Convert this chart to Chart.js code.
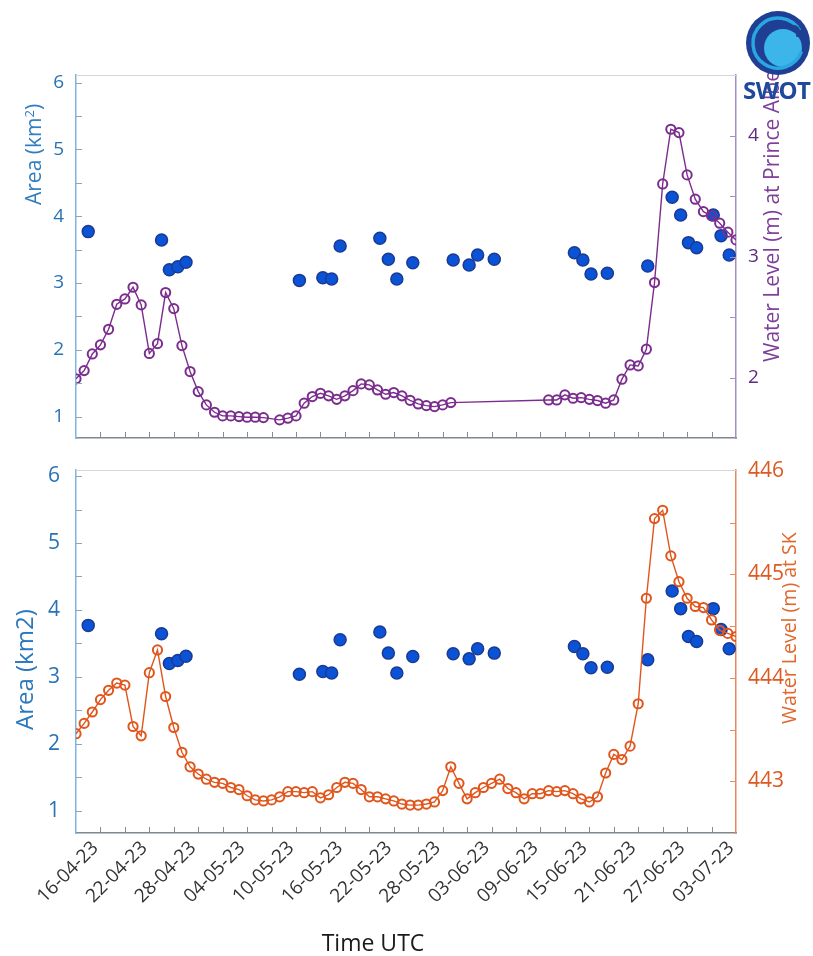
<!DOCTYPE html>
<html>
<head>
<meta charset="utf-8">
<script src="https://cdn.jsdelivr.net/npm/chart.js@4/dist/chart.umd.min.js"></script>
<style>
  html, body { margin: 0; padding: 0; background: #fff; }
  body { width: 813px; height: 956px; position: relative; overflow: hidden; font-family: 'Open Sans', sans-serif; }
  canvas { position: absolute; left: 0; }
  #c1 { top: 0; }
  #c2 { top: 450px; }
  .rt { position: absolute; white-space: nowrap; line-height: 1; transform-origin: 0 0; transform: rotate(-90deg); }
  .rt sup { font-size: 0.62em; vertical-align: 0.55em; line-height: 0; }
  #xtitle { position: absolute; left: 373px; top: 931px; transform: translateX(-50%); font-size: 23px; line-height: 1; color: #1a1a1a; white-space: nowrap; }
  #logo { position: absolute; left: 740px; top: 5px; width: 76px; height: 76px; }
  #logotext { position: absolute; left: 743px; top: 78px; font-size: 24px; font-weight: 700; color: #1f4a9c; line-height: 1; letter-spacing: -0.5px; }
</style>
</head>
<body>
<canvas id="c1" width="813" height="450"></canvas>
<canvas id="c2" width="813" height="506"></canvas>

<div class="rt" style="left:23px; top:205px; font-size:21px; color:#2f7dc0;">Area (km<sup>2</sup>)</div>
<div class="rt" style="left:12px; top:730px; font-size:24px; color:#2a78bd;">Area (km2)</div>
<div class="rt" style="left:761px; top:362px; font-size:21px; color:#7e3e9a;">Water Level (m) at Prince Albert</div>
<div class="rt" style="left:779px; top:724px; font-size:19.5px; color:#e0682e;">Water Level (m) at SK</div>
<div id="xtitle">Time UTC</div>

<svg id="logo" viewBox="0 0 76 76">
  <circle cx="38" cy="38" r="32" fill="#1e3f93"/>
  <circle cx="43" cy="43" r="19" fill="#3bb5ea"/>
  <path d="M 59.6 25.5 A 25 25 0 1 0 61.5 46.5" fill="none" stroke="#2aa6e0" stroke-width="3.5"/>
  <path d="M 50 22 Q 60 20 58 32" fill="none" stroke="#1e3f93" stroke-width="4"/>
</svg>
<div id="logotext">SWOT</div>

<script>
// ---------------- data ----------------
const startDate = '2023-04-13';
const endDate   = '2023-07-03';
const xTickLabels = ['16-04-23','22-04-23','28-04-23','04-05-23','10-05-23','16-05-23','22-05-23',
                     '28-05-23','03-06-23','09-06-23','15-06-23','21-06-23','27-06-23','03-07-23'];

// SWOT area observations (UTC)
const areaTimes = ['2023-04-14T12:00','2023-04-23T12:00','2023-04-24T11:00','2023-04-25T12:00','2023-04-26T12:00',
  '2023-05-10T10:00','2023-05-13T07:00','2023-05-14T09:00','2023-05-15T10:00','2023-05-20T07:00',
  '2023-05-21T08:00','2023-05-22T09:00','2023-05-24T08:00','2023-05-29T07:00','2023-05-31T06:00',
  '2023-06-01T07:00','2023-06-03T08:00','2023-06-13T04:00','2023-06-14T05:00','2023-06-15T05:00',
  '2023-06-17T05:00','2023-06-22T04:00','2023-06-25T04:00','2023-06-26T05:00','2023-06-27T04:00',
  '2023-06-28T04:00','2023-06-30T05:00','2023-07-01T04:00','2023-07-02T04:00'];
const areaKm2 = [3.77,3.645,3.20,3.245,3.31,
  3.04,3.08,3.06,3.555,3.67,
  3.356,3.06,3.305,3.346,3.27,
  3.42,3.356,3.455,3.346,3.136,
  3.146,3.256,4.284,4.02,3.605,
  3.53,4.02,3.71,3.42];

// Daily gauge water levels from startDate to endDate (null = no record)
const princeAlbertLevel = [1.99,2.058,2.196,2.271,2.40,2.607,2.651,2.748,2.602,2.20,
  2.281,2.704,2.571,2.265,2.05,1.884,1.774,1.713,1.683,1.683,
  1.677,1.672,1.672,1.669,null,1.65,1.664,1.683,1.788,1.843,
  1.87,1.849,1.82,1.849,1.892,1.948,1.94,1.898,1.862,1.876,
  1.849,1.812,1.782,1.768,1.76,1.774,1.793,null,null,null,
  null,null,null,null,null,null,null,null,1.815,1.815,
  1.857,1.829,1.834,1.82,1.81,1.788,1.815,1.987,2.105,2.097,
  2.235,2.787,3.603,4.056,4.028,3.678,3.477,3.374,3.339,3.278,
  3.204,3.14];
const skLevel = [443.46,443.56,443.67,443.79,443.88,443.95,443.93,443.53,443.44,444.05,
  444.27,443.82,443.52,443.28,443.14,443.07,443.02,442.99,442.98,442.94,
  442.92,442.86,442.82,442.81,442.82,442.85,442.90,442.90,442.89,442.90,
  442.84,442.87,442.94,442.99,442.98,442.92,442.85,442.85,442.83,442.81,
  442.78,442.77,442.77,442.78,442.80,442.91,443.14,442.98,442.83,442.89,
  442.94,442.98,443.02,442.93,442.89,442.83,442.88,442.88,442.91,442.90,
  442.91,442.88,442.83,442.80,442.85,443.08,443.26,443.21,443.34,443.75,
  444.77,445.54,445.62,445.18,444.93,444.77,444.69,444.68,444.56,444.46,
  444.43,444.40];

// ---------------- helpers ----------------
const DAY = 86400000;
const t0 = Date.parse(startDate + 'T00:00:00Z');
const toDay = s => (Date.parse(s.length > 10 ? s + ':00Z' : s + 'T00:00:00Z') - t0) / DAY;
const labelDay = l => { const [d, m, y] = l.split('-').map(Number); return (Date.UTC(2000 + y, m - 1, d) - t0) / DAY; };
const xMax = toDay(endDate);
const tickLabelMap = {};
xTickLabels.forEach(l => { tickLabelMap[Math.round(labelDay(l))] = l; });

const areaPts = areaTimes.map((t, i) => ({ x: toDay(t), y: areaKm2[i] }));
const dailyPts = arr => arr.map((v, i) => ({ x: i, y: v }));

const BLUE_TXT = '#2872b5', PURPLE = '#7b2d8e', PURPLE_TXT = '#5e2a80', ORANGE = '#e0561c', ORANGE_TXT = '#db5a22';

const isInt = v => Math.abs(v - Math.round(v)) < 1e-6;
const zeroPad = s => { s.paddingTop = 0; s.paddingBottom = 0; s.paddingLeft = 0; s.paddingRight = 0; };

const frame = {
  id: 'frame',
  afterDraw(chart, args, o) {
    const { ctx, chartArea: a, scales } = chart;
    const L = 6;
    ctx.save();
    ctx.lineWidth = 1;
    ctx.strokeStyle = '#d6d6d6';
    ctx.beginPath(); ctx.moveTo(a.left, a.top + 0.5); ctx.lineTo(a.right, a.top + 0.5); ctx.stroke();
    const sx = scales.x;
    ctx.strokeStyle = '#858b93';
    sx.ticks.forEach(t => {
      const p = Math.round(sx.getPixelForValue(t.value)) + 0.5;
      if (p <= a.left + 2 || p >= a.right - 2) return;
      ctx.beginPath(); ctx.moveTo(p, a.bottom); ctx.lineTo(p, a.bottom - L); ctx.stroke();
    });
    const yl = scales.yL;
    ctx.strokeStyle = '#8aa6c4';
    yl.ticks.forEach(t => {
      const p = Math.round(yl.getPixelForValue(t.value)) + 0.5;
      if (p <= a.top + 2 || p >= a.bottom - 2) return;
      ctx.beginPath(); ctx.moveTo(a.left, p); ctx.lineTo(a.left + L, p); ctx.stroke();
    });
    const yr = scales.yR;
    ctx.strokeStyle = o.rightTick;
    yr.ticks.forEach(t => {
      const p = Math.round(yr.getPixelForValue(t.value)) + 0.5;
      if (p <= a.top + 2 || p >= a.bottom - 2) return;
      ctx.beginPath(); ctx.moveTo(a.right, p); ctx.lineTo(a.right - L, p); ctx.stroke();
    });
    ctx.restore();
  }
};

function makeChart(canvasId, cfg) {
  const showX = cfg.showX;
  return new Chart(document.getElementById(canvasId), {
    type: 'line',
    data: {
      datasets: [
        {
          label: cfg.levelLabel, data: dailyPts(cfg.level), yAxisID: 'yR', order: 0,
          borderColor: cfg.color, borderWidth: 1.4, tension: 0, spanGaps: true, fill: false,
          pointRadius: 4.6, pointBorderWidth: 2, pointBorderColor: cfg.color,
          pointBackgroundColor: 'rgba(255,255,255,0)'
        },
        {
          type: 'scatter', label: 'Area', data: areaPts, yAxisID: 'yL', order: 1, showLine: false,
          pointRadius: 6, pointBorderWidth: 1.5, pointBackgroundColor: '#0b53d6', pointBorderColor: '#1b3a92'
        }
      ]
    },
    options: {
      responsive: false, animation: false, devicePixelRatio: 1,
      layout: { padding: { top: cfg.padTop, left: 0, right: 0, bottom: 0 } },
      plugins: { legend: { display: false }, tooltip: { enabled: false }, frame: { rightTick: cfg.rightTick } },
      scales: {
        x: {
          type: 'linear', min: 0, max: xMax,
          grid: { display: false },
          border: { display: true, color: '#7f8790', width: 1.5 },
          ticks: {
            display: showX, stepSize: 3, autoSkip: false, minRotation: 45, maxRotation: 45,
            padding: -4, labelOffset: -5, color: '#333', font: { family: 'Open Sans', size: 19 },
            callback: v => tickLabelMap[Math.round(v)] || ''
          },
          afterFit: s => { s.height = cfg.xHeight; zeroPad(s); }
        },
        yL: {
          type: 'linear', position: 'left', min: cfg.yLmin, max: cfg.yLmax,
          grid: { display: false },
          border: { display: true, color: '#7db6e0', width: 1.5 },
          ticks: {
            stepSize: 0.5, autoSkip: false, includeBounds: false, padding: cfg.leftPad,
            color: BLUE_TXT, font: { family: 'Open Sans', size: cfg.leftFont },
            callback: v => isInt(v) ? String(Math.round(v)) : ''
          },
          afterFit: s => { s.width = 76; zeroPad(s); }
        },
        yR: {
          type: 'linear', position: 'right', min: cfg.yRmin, max: cfg.yRmax,
          grid: { display: false },
          border: { display: true, color: cfg.rightBorder, width: 1.5 },
          ticks: {
            stepSize: 0.5, autoSkip: false, includeBounds: false, padding: 4,
            color: cfg.rightTxt, font: { family: 'Open Sans', size: cfg.rightFont },
            callback: v => isInt(v) ? String(Math.round(v)) : ''
          },
          afterFit: s => { s.width = 77; zeroPad(s); }
        }
      }
    },
    plugins: [frame]
  });
}

makeChart('c1', {
  showX: false, xHeight: 12, padTop: 75,
  level: princeAlbertLevel, levelLabel: 'Water Level (m) at Prince Albert', color: PURPLE,
  yLmin: 0.68, yLmax: 6.115, yRmin: 1.5, yRmax: 4.505,
  leftPad: 4, leftFont: 19, rightFont: 19,
  rightTxt: PURPLE_TXT, rightBorder: '#a98cc2', rightTick: '#a98cc2'
});
makeChart('c2', {
  showX: true, xHeight: 123, padTop: 20,
  level: skLevel, levelLabel: 'Water Level (m) at SK', color: ORANGE,
  yLmin: 0.67, yLmax: 6.09, yRmin: 442.5, yRmax: 446.01,
  leftPad: 8, leftFont: 21, rightFont: 21,
  rightTxt: ORANGE_TXT, rightBorder: '#e58a5e', rightTick: '#e58a5e'
});
</script>
</body>
</html>
